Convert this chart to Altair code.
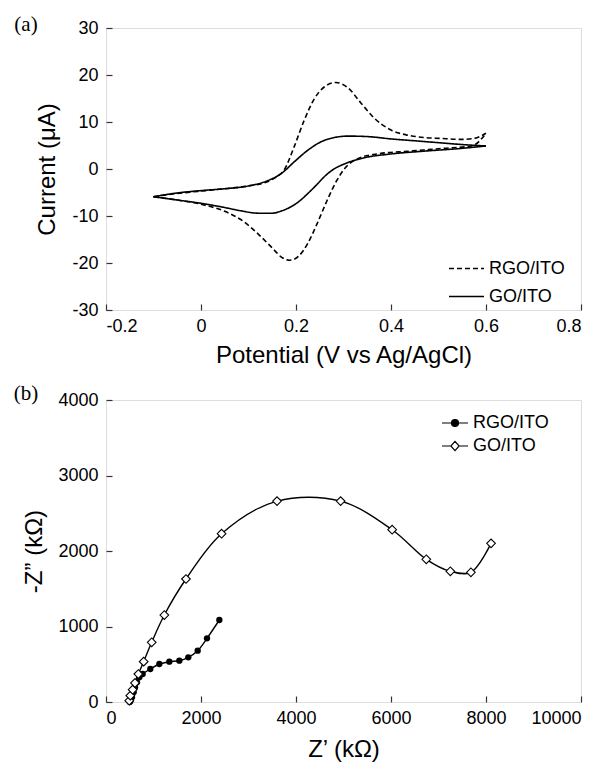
import altair as alt
import pandas as pd

FONT = "Liberation Sans"
series = ["RGO/ITO", "GO/ITO"]
panel_labels = ["(a)", "(b)"]

# ---------- (a) cyclic voltammetry ----------
rgo_fwd_x = [-0.10, -0.05, 0.0, 0.05, 0.10, 0.14, 0.16, 0.175, 0.196, 0.217, 0.239, 0.26, 0.284,
             0.309, 0.337, 0.365, 0.40, 0.435, 0.47, 0.505, 0.547, 0.575, 0.60]
rgo_fwd_y = [-5.9, -5.2, -4.7, -4.2, -3.6, -2.7, -1.6, -0.2, 4.7, 10.3, 15.0, 17.5, 18.4,
             17.3, 14.0, 10.8, 8.3, 7.2, 6.7, 6.5, 6.3, 6.5, 7.6]
rgo_rev_x = [-0.10, -0.05, 0.0, 0.05, 0.09, 0.12, 0.15, 0.17, 0.187, 0.205, 0.225, 0.245, 0.265,
             0.285, 0.305, 0.33, 0.37, 0.44, 0.51, 0.57, 0.60]
rgo_rev_y = [-5.9, -6.6, -7.5, -9.0, -11.2, -13.8, -16.8, -18.8, -19.4, -18.6, -15.8, -11.5, -6.8,
             -2.6, 0.4, 2.2, 3.2, 3.8, 4.4, 4.9, 7.6]
go_fwd_x = [-0.10, -0.05, 0.0, 0.05, 0.10, 0.14, 0.17, 0.196, 0.225, 0.253, 0.281, 0.31, 0.35,
            0.40, 0.45, 0.50, 0.55, 0.60]
go_fwd_y = [-5.9, -5.1, -4.6, -4.2, -3.6, -2.5, -0.9, 1.5, 4.0, 5.8, 6.7, 7.0, 6.9,
            6.4, 6.0, 5.6, 5.2, 4.9]
go_rev_x = [-0.10, -0.05, 0.0, 0.05, 0.084, 0.12, 0.15, 0.17, 0.19, 0.21, 0.225, 0.245, 0.26,
            0.28, 0.30, 0.34, 0.40, 0.47, 0.55, 0.60]
go_rev_y = [-5.9, -6.6, -7.3, -8.2, -8.9, -9.4, -9.4, -8.9, -8.0, -6.6, -5.2, -3.2, -1.6,
            0.0, 1.0, 2.3, 3.2, 3.8, 4.4, 4.9]
cv_xticks = [-0.2, 0, 0.2, 0.4, 0.6, 0.8]
cv_yticks = [-30, -20, -10, 0, 10, 20, 30]

# ---------- (b) Nyquist ----------
rgo_zr = [500, 512, 547, 582, 611, 653, 702, 772, 933, 1123, 1333, 1544, 1733, 1930, 2126, 2386]
rgo_zi = [0, 9, 62, 128, 194, 260, 327, 371, 437, 503, 534, 547, 592, 680, 843, 1086]
go_zr = [490, 512, 561, 611, 681, 793, 962, 1228, 1684, 2433, 3600, 4939, 6024, 6743, 7249, 7682, 8106]
go_zi = [17, 84, 163, 252, 371, 534, 791, 1152, 1629, 2229, 2661, 2661, 2282, 1890, 1731, 1718, 2101]
eis_xticks = [0, 2000, 4000, 6000, 8000, 10000]
eis_yticks = [0, 1000, 2000, 3000, 4000]


def part(xs, ys, s, b):
    return pd.DataFrame({"E": xs, "I": ys, "series": s, "branch": b})


cv = pd.concat([
    part(rgo_fwd_x, rgo_fwd_y, series[0], "fwd"),
    part(rgo_rev_x, rgo_rev_y, series[0], "rev"),
    part(go_fwd_x, go_fwd_y, series[1], "fwd"),
    part(go_rev_x, go_rev_y, series[1], "rev"),
], ignore_index=True)

nyq = pd.concat([
    pd.DataFrame({"Zr": rgo_zr, "Zi": rgo_zi, "series": series[0]}),
    pd.DataFrame({"Zr": go_zr, "Zi": go_zi, "series": series[1]}),
], ignore_index=True)

lbl_a = pd.DataFrame({"panel": [panel_labels[0]]})
lbl_b = pd.DataFrame({"panel": [panel_labels[1]]})

minus_fix = "replace(datum.label, '\u2212', '-')"

ax_common = dict(grid=False, domain=False, ticks=True, tickSize=6, offset=-6,
                 tickColor="#333333", tickWidth=1.2,
                 labelFont=FONT, labelFontSize=18, labelColor="black",
                 titleFont=FONT, titleFontSize=24, titleFontWeight="normal", titleColor="black")

# ---- panel (a)
cv_x = alt.X("E:Q", scale=alt.Scale(domain=[-0.2, 0.8], nice=False, zero=False),
             axis=alt.Axis(values=cv_xticks, format="~g", labelExpr=minus_fix,
                           title="Potential (V vs Ag/AgCl)", labelPadding=7, titlePadding=8,
                           **ax_common))
cv_y = alt.Y("I:Q", scale=alt.Scale(domain=[-30, 30], nice=False, zero=False),
             axis=alt.Axis(values=cv_yticks, format="d", labelExpr=minus_fix,
                           title="Current (\u03bcA)", labelPadding=8, titlePadding=12,
                           **ax_common))

cv_lines = alt.Chart(cv).mark_line(color="black", strokeWidth=1.6, interpolate="monotone").encode(
    x=cv_x, y=cv_y,
    detail="branch:N",
    strokeDash=alt.StrokeDash(
        "series:N",
        scale=alt.Scale(domain=series, range=[[5, 3], [1, 0]]),
        legend=alt.Legend(title=None, orient="none", legendX=342, legendY=222,
                          symbolType="stroke", symbolSize=1225, symbolStrokeWidth=1.5,
                          symbolStrokeColor="black", labelFont=FONT, labelFontSize=18,
                          labelColor="black", rowPadding=-8, labelOffset=4, padding=0),
    ),
)

tag_a = alt.Chart(lbl_a).mark_text(font="Liberation Serif", fontSize=21, color="black",
                                    align="center", baseline="middle").encode(
    text="panel:N", x=alt.value(-80), y=alt.value(-3))

panel_a = alt.layer(cv_lines, tag_a).properties(width=475, height=282)

# ---- panel (b)
ez_x = alt.X("Zr:Q", scale=alt.Scale(domain=[0, 10000], nice=False, zero=False),
             axis=alt.Axis(values=eis_xticks, format="d", title="Z\u2019 (k\u03a9)",
                           labelPadding=7, titlePadding=10, **ax_common))
ez_y = alt.Y("Zi:Q", scale=alt.Scale(domain=[0, 4000], nice=False, zero=False),
             axis=alt.Axis(values=eis_yticks, format="d", title="-Z\u201d (k\u03a9)",
                           labelPadding=8, titlePadding=11, **ax_common))

eis_lines = alt.Chart(nyq).mark_line(color="black", strokeWidth=1.4,
                                     interpolate="catmull-rom").encode(
    x=ez_x, y=ez_y, detail="series:N")

rgo_pts = alt.Chart(nyq).transform_filter(alt.datum.series == series[0]).mark_point(
    shape="circle", filled=True, color="black", size=40, opacity=1).encode(x="Zr:Q", y="Zi:Q")

go_pts = alt.Chart(nyq).transform_filter(alt.datum.series == series[1]).mark_point(
    shape="diamond", filled=False, fill="white", stroke="black", strokeWidth=1.1,
    size=75, opacity=1).encode(x="Zr:Q", y="Zi:Q")

path_rgo = "M-1,0H1M0.27,0A0.27,0.27,0,1,1,-0.27,0A0.27,0.27,0,1,1,0.27,0Z"
path_go = "M-1,0H-0.32M0.32,0H1M0,-0.36L0.32,0L0,0.36L-0.32,0Z"
leg_b = alt.Legend(title=None, orient="none", legendX=335, legendY=9,
                   symbolSize=676, symbolStrokeWidth=1.2, symbolStrokeColor="black",
                   labelFont=FONT, labelFontSize=18, labelColor="black",
                   rowPadding=-2, labelOffset=4, padding=0)

legend_b = alt.Chart(nyq).transform_filter("false").mark_point(
    filled=False, strokeWidth=1.2, opacity=1).encode(
    x="Zr:Q", y="Zi:Q",
    shape=alt.Shape("series:N", scale=alt.Scale(domain=series, range=[path_rgo, path_go]), legend=leg_b),
    fill=alt.Fill("series:N", scale=alt.Scale(domain=series, range=["black", "white"]), legend=leg_b),
    stroke=alt.Stroke("series:N", scale=alt.Scale(domain=series, range=["black", "black"]), legend=leg_b),
)

tag_b = alt.Chart(lbl_b).mark_text(font="Liberation Serif", fontSize=21, color="black",
                                    align="center", baseline="middle").encode(
    text="panel:N", x=alt.value(-80), y=alt.value(-6))

panel_b = alt.layer(eis_lines, rgo_pts, go_pts, legend_b, tag_b).properties(width=475, height=302)

chart = alt.vconcat(panel_a, panel_b, spacing=14).resolve_scale(
    strokeDash="independent", shape="independent", fill="independent", stroke="independent"
).resolve_legend(
    strokeDash="independent", shape="independent", fill="independent", stroke="independent"
).properties(
    padding={"left": 5, "top": 5, "right": 2, "bottom": 0}
).configure_view(stroke="#333333", strokeWidth=1.5).configure(background="white")

chart.save("out.html", embed_options={"renderer": "svg", "actions": False})
